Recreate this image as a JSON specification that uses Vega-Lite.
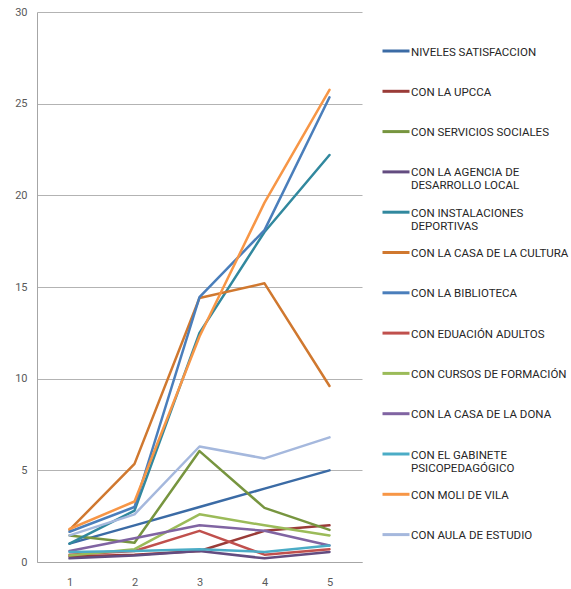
{
  "$schema": "https://vega.github.io/schema/vega-lite/v6.json",
  "autosize": {"type": "none"},
  "padding": {"left": 37, "top": 12, "right": 209, "bottom": 27},
  "width": 325,
  "height": 550,
  "background": "white",
  "config": {
    "view": {"stroke": null},
    "font": "Roboto",
    "axis": {"labelFont": "Roboto", "labelColor": "#595959", "labelFontSize": 11}
  },
  "data": {
    "values": [
      {"serie": "NIVELES SATISFACCION", "x": 1, "v": 1},
      {"serie": "NIVELES SATISFACCION", "x": 2, "v": 2},
      {"serie": "NIVELES SATISFACCION", "x": 3, "v": 3},
      {"serie": "NIVELES SATISFACCION", "x": 4, "v": 4},
      {"serie": "NIVELES SATISFACCION", "x": 5, "v": 5},
      {"serie": "CON LA UPCCA", "x": 1, "v": 0.3},
      {"serie": "CON LA UPCCA", "x": 2, "v": 0.4},
      {"serie": "CON LA UPCCA", "x": 3, "v": 0.6},
      {"serie": "CON LA UPCCA", "x": 4, "v": 1.7},
      {"serie": "CON LA UPCCA", "x": 5, "v": 2.0},
      {"serie": "CON SERVICIOS SOCIALES", "x": 1, "v": 1.45},
      {"serie": "CON SERVICIOS SOCIALES", "x": 2, "v": 1.05},
      {"serie": "CON SERVICIOS SOCIALES", "x": 3, "v": 6.05},
      {"serie": "CON SERVICIOS SOCIALES", "x": 4, "v": 2.95},
      {"serie": "CON SERVICIOS SOCIALES", "x": 5, "v": 1.75},
      {"serie": "CON LA AGENCIA DE DESARROLLO LOCAL", "x": 1, "v": 0.2},
      {"serie": "CON LA AGENCIA DE DESARROLLO LOCAL", "x": 2, "v": 0.35},
      {"serie": "CON LA AGENCIA DE DESARROLLO LOCAL", "x": 3, "v": 0.6},
      {"serie": "CON LA AGENCIA DE DESARROLLO LOCAL", "x": 4, "v": 0.2},
      {"serie": "CON LA AGENCIA DE DESARROLLO LOCAL", "x": 5, "v": 0.55},
      {"serie": "CON INSTALACIONES DEPORTIVAS", "x": 1, "v": 1.0},
      {"serie": "CON INSTALACIONES DEPORTIVAS", "x": 2, "v": 2.8},
      {"serie": "CON INSTALACIONES DEPORTIVAS", "x": 3, "v": 12.5},
      {"serie": "CON INSTALACIONES DEPORTIVAS", "x": 4, "v": 18.0},
      {"serie": "CON INSTALACIONES DEPORTIVAS", "x": 5, "v": 22.2},
      {"serie": "CON LA CASA DE LA CULTURA", "x": 1, "v": 1.75},
      {"serie": "CON LA CASA DE LA CULTURA", "x": 2, "v": 5.35},
      {"serie": "CON LA CASA DE LA CULTURA", "x": 3, "v": 14.4},
      {"serie": "CON LA CASA DE LA CULTURA", "x": 4, "v": 15.2},
      {"serie": "CON LA CASA DE LA CULTURA", "x": 5, "v": 9.6},
      {"serie": "CON LA BIBLIOTECA", "x": 1, "v": 1.65},
      {"serie": "CON LA BIBLIOTECA", "x": 2, "v": 3.0},
      {"serie": "CON LA BIBLIOTECA", "x": 3, "v": 14.45},
      {"serie": "CON LA BIBLIOTECA", "x": 4, "v": 18.1},
      {"serie": "CON LA BIBLIOTECA", "x": 5, "v": 25.35},
      {"serie": "CON EDUACIÓN ADULTOS", "x": 1, "v": 0.4},
      {"serie": "CON EDUACIÓN ADULTOS", "x": 2, "v": 0.6},
      {"serie": "CON EDUACIÓN ADULTOS", "x": 3, "v": 1.7},
      {"serie": "CON EDUACIÓN ADULTOS", "x": 4, "v": 0.4},
      {"serie": "CON EDUACIÓN ADULTOS", "x": 5, "v": 0.7},
      {"serie": "CON CURSOS DE FORMACIÓN", "x": 1, "v": 0.35},
      {"serie": "CON CURSOS DE FORMACIÓN", "x": 2, "v": 0.7},
      {"serie": "CON CURSOS DE FORMACIÓN", "x": 3, "v": 2.6},
      {"serie": "CON CURSOS DE FORMACIÓN", "x": 4, "v": 2.0},
      {"serie": "CON CURSOS DE FORMACIÓN", "x": 5, "v": 1.45},
      {"serie": "CON LA CASA DE LA DONA", "x": 1, "v": 0.6},
      {"serie": "CON LA CASA DE LA DONA", "x": 2, "v": 1.3},
      {"serie": "CON LA CASA DE LA DONA", "x": 3, "v": 2.0},
      {"serie": "CON LA CASA DE LA DONA", "x": 4, "v": 1.7},
      {"serie": "CON LA CASA DE LA DONA", "x": 5, "v": 0.9},
      {"serie": "CON EL GABINETE PSICOPEDAGÓGICO", "x": 1, "v": 0.55},
      {"serie": "CON EL GABINETE PSICOPEDAGÓGICO", "x": 2, "v": 0.6},
      {"serie": "CON EL GABINETE PSICOPEDAGÓGICO", "x": 3, "v": 0.7},
      {"serie": "CON EL GABINETE PSICOPEDAGÓGICO", "x": 4, "v": 0.55},
      {"serie": "CON EL GABINETE PSICOPEDAGÓGICO", "x": 5, "v": 0.9},
      {"serie": "CON MOLI DE VILA", "x": 1, "v": 1.8},
      {"serie": "CON MOLI DE VILA", "x": 2, "v": 3.3},
      {"serie": "CON MOLI DE VILA", "x": 3, "v": 12.3},
      {"serie": "CON MOLI DE VILA", "x": 4, "v": 19.6},
      {"serie": "CON MOLI DE VILA", "x": 5, "v": 25.75},
      {"serie": "CON AULA DE ESTUDIO", "x": 1, "v": 1.45},
      {"serie": "CON AULA DE ESTUDIO", "x": 2, "v": 2.6},
      {"serie": "CON AULA DE ESTUDIO", "x": 3, "v": 6.3},
      {"serie": "CON AULA DE ESTUDIO", "x": 4, "v": 5.65},
      {"serie": "CON AULA DE ESTUDIO", "x": 5, "v": 6.8}
    ]
  },
  "mark": {"type": "line", "strokeWidth": 2.5, "strokeCap": "round", "strokeJoin": "round"},
  "encoding": {
    "x": {
      "field": "x", "type": "ordinal",
      "scale": {"type": "point", "padding": 0.5},
      "axis": {"title": null, "labelAngle": 0, "ticks": false, "labelPadding": 14, "domainColor": "#a6a6a6", "grid": false}
    },
    "y": {
      "field": "v", "type": "quantitative",
      "scale": {"domain": [0, 30], "nice": false},
      "axis": {"title": null, "values": [0, 5, 10, 15, 20, 25, 30], "ticks": false, "labelPadding": 10, "domainColor": "#a6a6a6", "gridColor": "#b3b3b3", "grid": true}
    },
    "color": {
      "field": "serie", "type": "nominal",
      "scale": {
        "domain": ["NIVELES SATISFACCION", "CON LA UPCCA", "CON SERVICIOS SOCIALES", "CON LA AGENCIA DE DESARROLLO LOCAL", "CON INSTALACIONES DEPORTIVAS", "CON LA CASA DE LA CULTURA", "CON LA BIBLIOTECA", "CON EDUACIÓN ADULTOS", "CON CURSOS DE FORMACIÓN", "CON LA CASA DE LA DONA", "CON EL GABINETE PSICOPEDAGÓGICO", "CON MOLI DE VILA", "CON AULA DE ESTUDIO"],
        "range": ["#3B6BA5", "#9A3B38", "#77953F", "#634C80", "#31889E", "#D0782F", "#4A7EBB", "#C0504D", "#9BBB59", "#8064A2", "#4BACC6", "#F79646", "#A5B8DD"]
      },
      "legend": {
        "title": null,
        "orient": "none",
        "legendX": 344,
        "legendY": 24,
        "padding": 0,
        "symbolType": "stroke",
        "symbolSize": 729,
        "symbolStrokeWidth": 3,
        "labelFont": "Roboto",
        "labelFontSize": 11.5,
        "labelColor": "#262626",
        "labelOffset": 0,
        "labelLimit": 300,
        "rowPadding": 5.3,
        "labelBaseline": "middle",
        "labelExpr": "datum.label == 'CON LA AGENCIA DE DESARROLLO LOCAL' ? ['CON LA AGENCIA DE', 'DESARROLLO LOCAL'] : datum.label == 'CON INSTALACIONES DEPORTIVAS' ? ['CON INSTALACIONES', 'DEPORTIVAS'] : datum.label == 'CON EL GABINETE PSICOPEDAGÓGICO' ? ['CON EL GABINETE', 'PSICOPEDAGÓGICO'] : [datum.label, '']",
        "encode": {"labels": {"update": {"lineHeight": {"value": 13}, "dy": {"value": 1.5}}}}
      }
    }
  }
}
